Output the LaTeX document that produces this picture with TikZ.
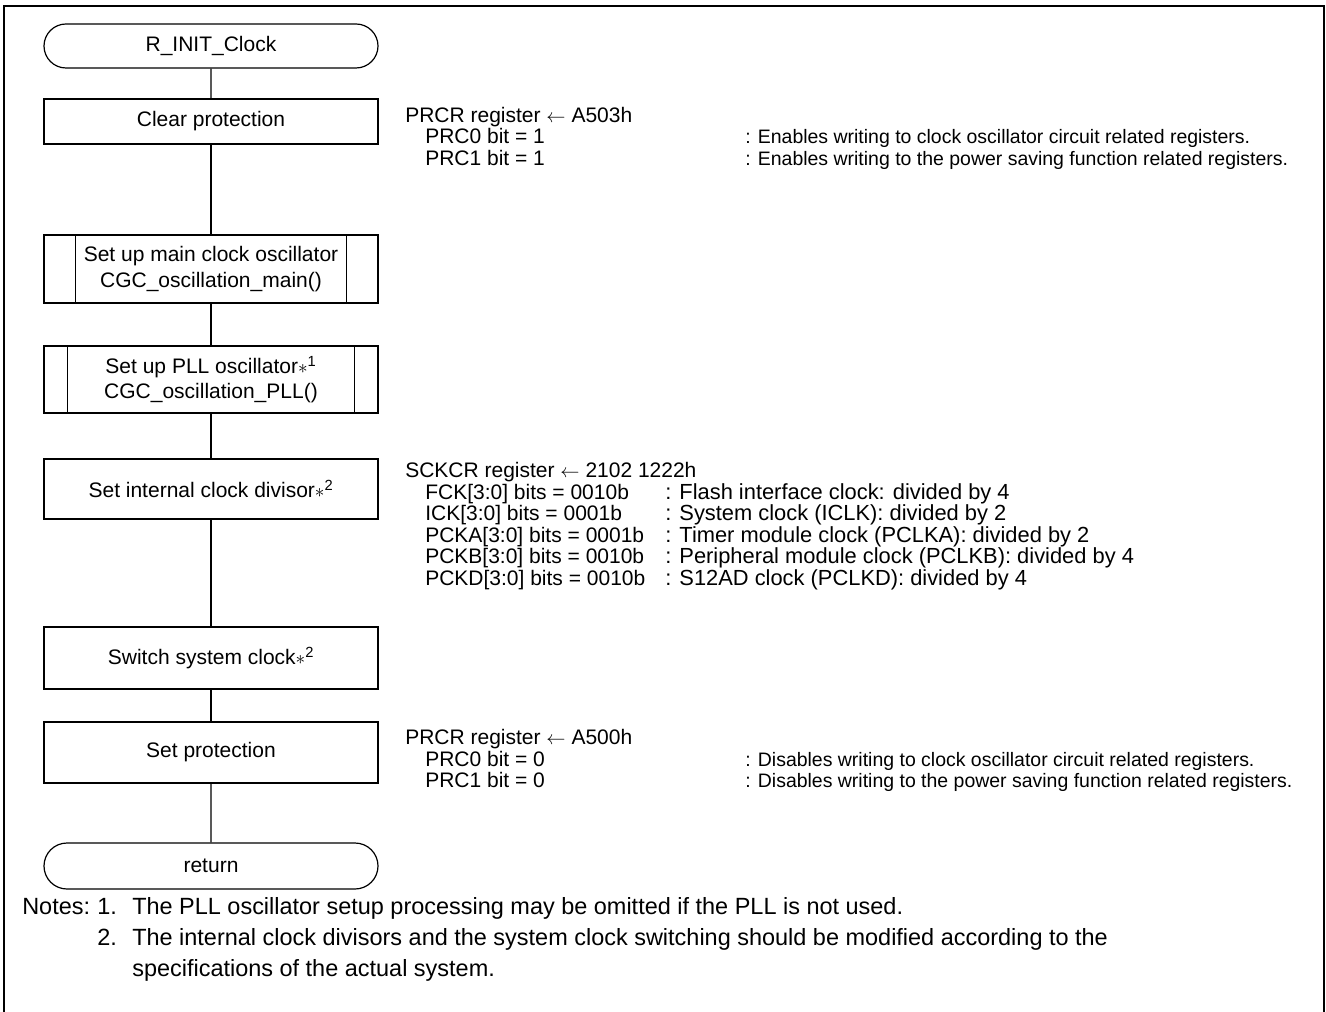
\documentclass[tikz,border=0pt]{standalone}
\usepackage{fontspec}
\setmainfont{Liberation Sans}
\usetikzlibrary{shapes.misc,calc}
\newcommand{\starmark}[1]{{\fontsize{15pt}{15pt}\selectfont$\ast$}\textsuperscript{#1}}
\begin{document}
\begin{tikzpicture}[x=0.75pt,y=-0.75pt,
  every node/.style={font=\fontsize{15.75pt}{19pt}\selectfont, inner sep=0pt},
  boxline/.style={line width=0.9pt},
  procbox/.style={draw, boxline, rectangle, minimum width=250.5pt, align=center},
  termbox/.style={draw, boxline, rounded rectangle, rounded rectangle arc length=180, minimum width=250.5pt, minimum height=33pt},
  sidetext/.style={anchor=base west},
  desctext/.style={anchor=base west, font=\fontsize{14.6pt}{17pt}\selectfont},
  sdesctext/.style={anchor=base west, font=\fontsize{16.4pt}{19pt}\selectfont},
  notetext/.style={anchor=base west, font=\fontsize{17.6pt}{21pt}\selectfont}]
\useasboundingbox (0,0) rectangle (1326,1012);
% frame
\draw[line width=1.4pt] (4,1012) -- (4,6) -- (1324,6) -- (1324,1012);

% flow nodes
\node[termbox] (start) at (211,46) {R\_INIT\_Clock};
\node[procbox, minimum height=33.75pt] (clear) at (211,121.5) {Clear protection};
\node[procbox, minimum height=51pt] (mainosc) at (211,269) {Set up main clock oscillator\\CGC\_oscillation\_main()};
\node[procbox, minimum height=50.25pt] (pll) at (211,379.5) {Set up PLL oscillator\starmark{1}\\CGC\_oscillation\_PLL()};
\node[procbox, minimum height=45pt] (div) at (211,489) {Set internal clock divisor\starmark{2}};
\node[procbox, minimum height=46.5pt] (sw) at (211,658) {Switch system clock\starmark{2}};
\node[procbox, minimum height=45.75pt] (setp) at (211,752.5) {Set protection};
\node[termbox, minimum height=34.5pt] (ret) at (211,866) {return};

% subroutine bars
\draw[boxline] ($(mainosc.north west)+(32,0)$) -- ($(mainosc.south west)+(32,0)$);
\draw[boxline] ($(mainosc.north east)+(-32,0)$) -- ($(mainosc.south east)+(-32,0)$);
\draw[boxline] ($(pll.north west)+(24,0)$) -- ($(pll.south west)+(24,0)$);
\draw[boxline] ($(pll.north east)+(-24,0)$) -- ($(pll.south east)+(-24,0)$);

% connectors
\draw[boxline] (start) -- (clear);
\draw[boxline] (clear) -- (mainosc);
\draw[boxline] (mainosc) -- (pll);
\draw[boxline] (pll) -- (div);
\draw[boxline] (div) -- (sw);
\draw[boxline] (sw) -- (setp);
\draw[boxline] (setp) -- (ret);

% side texts: clear protection
\node[sidetext] (p1a) at (405,122.5) {PRCR register $\leftarrow$ A503h};
\node[sidetext] (p1b) at (425,144) {PRC0 bit = 1};
\node[sidetext] (p1c) at (425,165.5) {PRC1 bit = 1};
\node[desctext] (p1d) at (745,144) {: Enables writing to clock oscillator circuit related registers.};
\node[desctext] (p1e) at (745,165.5) {: Enables writing to the power saving function related registers.};

% side texts: SCKCR
\node[sidetext] (s0) at (405,477.5) {SCKCR register $\leftarrow$ 2102 1222h};
\node[sidetext] (s1) at (425,499) {FCK[3:0] bits = 0010b};
\node[sidetext] (s2) at (425,520.5) {ICK[3:0] bits = 0001b};
\node[sidetext] (s3) at (425,542) {PCKA[3:0] bits = 0001b};
\node[sidetext] (s4) at (425,563.5) {PCKB[3:0] bits = 0010b};
\node[sidetext] (s5) at (425,585) {PCKD[3:0] bits = 0010b};
\node[sdesctext] (d1) at (665,499) {: Flash interface clock: divided by 4};
\node[sdesctext] (d2) at (665,520.5) {: System clock (ICLK): divided by 2};
\node[sdesctext] (d3) at (665,542) {: Timer module clock (PCLKA): divided by 2};
\node[sdesctext] (d4) at (665,563.5) {: Peripheral module clock (PCLKB): divided by 4};
\node[sdesctext] (d5) at (665,585) {: S12AD clock (PCLKD): divided by 4};

% side texts: set protection
\node[sidetext] (p2a) at (405,744.5) {PRCR register $\leftarrow$ A500h};
\node[sidetext] (p2b) at (425,766) {PRC0 bit = 0};
\node[sidetext] (p2c) at (425,787.5) {PRC1 bit = 0};
\node[desctext] (p2d) at (745,766) {: Disables writing to clock oscillator circuit related registers.};
\node[desctext] (p2e) at (745,787.5) {: Disables writing to the power saving function related registers.};

% notes
\node[notetext] (n0) at (22,914) {Notes:};
\node[notetext] (n1a) at (97,914) {1.};
\node[notetext] (n1) at (132,914) {The PLL oscillator setup processing may be omitted if the PLL is not used.};
\node[notetext] (n2a) at (97,945) {2.};
\node[notetext] (n2) at (132,945) {The internal clock divisors and the system clock switching should be modified according to the};
\node[notetext] (n3) at (132,976) {specifications of the actual system.};
\end{tikzpicture}
\end{document}
